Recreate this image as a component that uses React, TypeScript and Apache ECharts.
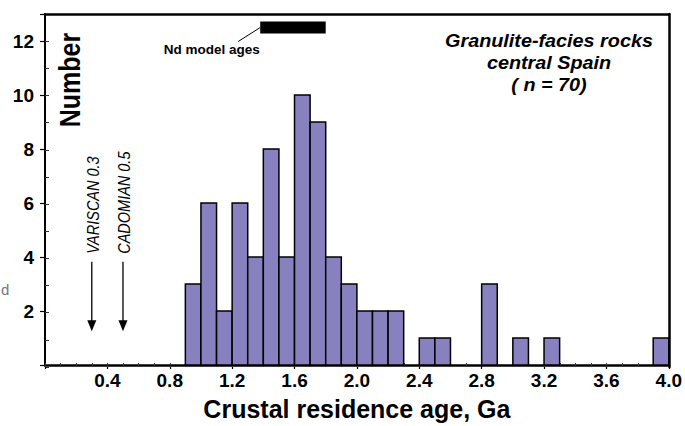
import React, { useEffect, useRef } from "react";
import * as echarts from "echarts";

// ---- data ----
const binStarts = [0.9, 1.0, 1.1, 1.2, 1.3, 1.4, 1.5, 1.6, 1.7, 1.8, 1.9, 2.0, 2.1, 2.2, 2.4, 2.5, 2.8, 3.0, 3.2, 3.9];
const counts = [3, 6, 2, 6, 4, 8, 4, 10, 9, 4, 3, 2, 2, 2, 1, 1, 3, 1, 1, 1];
const binWidth = 0.1;
const ndModelAgeRange = [1.38, 1.8];
const ndModelAgeBand = [12.28, 12.72];
const ndLabel = "Nd model ages";
const eventAges = [0.3, 0.5];
const eventLabels = ["VARISCAN 0.3", "CADOMIAN 0.5"];
const titleLines = ["Granulite-facies rocks", "central Spain", "( n = 70)"];
const xAxisTitle = "Crustal residence age, Ga";
const yAxisTitle = "Number";

const FONT = "'Liberation Sans', Arial, Helvetica, sans-serif";
const BAR_FILL = "#8782bf";

export default function App() {
  const ref = useRef<HTMLDivElement>(null);
  useEffect(() => {
    if (!ref.current) return;
    const chart = echarts.init(ref.current, undefined, { renderer: "svg" });
    const gridPos = { left: 45, right: 16, top: 14, bottom: 59 };
    const frameAxis = {
      axisLine: { show: true, onZero: false, lineStyle: { color: "#000", width: 2.5, opacity: 1 } },
      axisTick: { show: false },
      axisLabel: { show: false },
      splitLine: { show: false },
      z: 10,
    };

    const option: any = {
      animation: false,
      backgroundColor: "#ffffff",
      grid: [
        { ...gridPos, show: false },
        { ...gridPos, show: false },
        { ...gridPos, show: false },
      ],
      xAxis: [
        {
          type: "value",
          gridIndex: 0,
          min: 0,
          max: 4,
          interval: 0.4,
          position: "bottom",
          axisLine: { show: true, onZero: false, lineStyle: { color: "#000", width: 2.5 } },
          axisTick: { show: true, inside: false, length: 4, lineStyle: { color: "#000", width: 1.2 } },
          axisLabel: {
            formatter: (v: number) => (v === 0 ? "" : v.toFixed(1)),
            fontFamily: FONT,
            fontWeight: "bold",
            fontSize: 19,
            color: "#000",
            margin: 6,
          },
          splitLine: { show: false },
          name: xAxisTitle,
          nameLocation: "middle",
          nameGap: 31,
          nameTextStyle: { fontFamily: FONT, fontWeight: "bold", fontSize: 25, color: "#000" },
        },
        {
          type: "value",
          gridIndex: 1,
          min: 0,
          max: 4,
          interval: 0.1,
          position: "bottom",
          axisLine: { show: false },
          axisTick: { show: true, inside: true, length: 4, lineStyle: { color: "#333", width: 1 } },
          axisLabel: { show: false },
          splitLine: { show: false },
        },
        { type: "value", gridIndex: 2, min: 0, max: 4, position: "top", ...frameAxis },
      ],
      yAxis: [
        {
          type: "value",
          gridIndex: 0,
          min: 0,
          max: 13,
          interval: 2,
          axisLine: { show: true, onZero: false, lineStyle: { color: "#000", width: 2 } },
          axisTick: { show: true, inside: false, length: 5, lineStyle: { color: "#000", width: 1.2 } },
          axisLabel: {
            formatter: (v: number) => (v > 0 && v % 2 === 0 ? String(v) : ""),
            fontFamily: FONT,
            fontWeight: "bold",
            fontSize: 19,
            color: "#000",
            margin: 11,
          },
          splitLine: { show: false },
        },
        {
          type: "value",
          gridIndex: 1,
          min: 0,
          max: 13,
          interval: 1,
          axisLine: { show: false },
          axisTick: { show: true, inside: true, length: 4, lineStyle: { color: "#333", width: 1 } },
          axisLabel: { show: false },
          splitLine: { show: false },
        },
        { type: "value", gridIndex: 2, min: 0, max: 13, position: "right", ...frameAxis },
      ],
      graphic: [
        {
          type: "text",
          x: 70,
          y: 80,
          rotation: Math.PI / 2,
          scaleY: 1.15,
          style: {
            text: yAxisTitle,
            align: "center",
            verticalAlign: "middle",
            font: `bold 25px ${FONT}`,
            fill: "#000",
          },
        },
        {
          type: "text",
          x: 549,
          y: 63,
          scaleX: 1.1,
          style: {
            text: titleLines.join("\n"),
            align: "center",
            verticalAlign: "middle",
            lineHeight: 22,
            font: `italic bold 18px ${FONT}`,
            fill: "#000",
          },
        },
        {
          type: "text",
          x: 1,
          y: 289,
          style: {
            text: "d",
            align: "left",
            verticalAlign: "middle",
            font: `15px ${FONT}`,
            fill: "#777",
          },
        },
      ],
      series: [
        {
          type: "custom",
          name: "histogram",
          xAxisIndex: 0,
          yAxisIndex: 0,
          data: binStarts.map((s, i) => [s, s + binWidth, counts[i]]),
          encode: { x: [0, 1], y: 2 },
          z: 3,
          renderItem: (params: any, api: any) => {
            const p0 = api.coord([api.value(0), api.value(2)]);
            const p1 = api.coord([api.value(1), 0]);
            return {
              type: "rect",
              shape: { x: p0[0], y: p0[1], width: p1[0] - p0[0], height: p1[1] - p0[1] },
              style: { fill: BAR_FILL, stroke: "#000", lineWidth: 1.5 },
            };
          },
        },
        {
          type: "custom",
          name: "Nd model ages",
          xAxisIndex: 0,
          yAxisIndex: 0,
          data: [[ndModelAgeRange[0], ndModelAgeRange[1], ndModelAgeBand[0], ndModelAgeBand[1]]],
          encode: { x: [0, 1], y: [2, 3] },
          z: 4,
          renderItem: (params: any, api: any) => {
            const pA = api.coord([api.value(0), api.value(3)]);
            const pB = api.coord([api.value(1), api.value(2)]);
            const yMid = (pA[1] + pB[1]) / 2;
            return {
              type: "group",
              children: [
                {
                  type: "rect",
                  shape: { x: pA[0], y: pA[1], width: pB[0] - pA[0], height: pB[1] - pA[1] },
                  style: { fill: "#000" },
                },
                {
                  type: "line",
                  shape: { x1: pA[0] - 22, y1: yMid + 14, x2: pA[0], y2: yMid },
                  style: { stroke: "#000", lineWidth: 1 },
                },
                {
                  type: "text",
                  x: pA[0] - 48.5,
                  y: yMid + 22,
                  style: {
                    text: ndLabel,
                    align: "center",
                    verticalAlign: "middle",
                    font: `bold 13.5px ${FONT}`,
                    fill: "#000",
                  },
                },
              ],
            };
          },
        },
        {
          type: "custom",
          name: "events",
          xAxisIndex: 0,
          yAxisIndex: 0,
          data: eventAges.map((a) => [a, 0]),
          encode: { x: 0, y: 1 },
          z: 4,
          renderItem: (params: any, api: any) => {
            const x = api.value(0);
            const top = api.coord([x, 3.82]);
            const tip = api.coord([x, 1.25]);
            const textBase = api.coord([x, 4.12]);
            return {
              type: "group",
              children: [
                {
                  type: "line",
                  shape: { x1: top[0], y1: top[1], x2: tip[0], y2: tip[1] - 8 },
                  style: { stroke: "#000", lineWidth: 1.3 },
                },
                {
                  type: "polygon",
                  shape: {
                    points: [
                      [tip[0], tip[1]],
                      [tip[0] - 4.5, tip[1] - 11],
                      [tip[0] + 4.5, tip[1] - 11],
                    ],
                  },
                  style: { fill: "#000" },
                },
                {
                  type: "text",
                  x: textBase[0] + 1.5,
                  y: textBase[1],
                  rotation: Math.PI / 2,
                  scaleY: 1.12,
                  style: {
                    text: eventLabels[params.dataIndex],
                    align: "left",
                    verticalAlign: "middle",
                    font: `italic 14.5px ${FONT}`,
                    fill: "#000",
                  },
                },
              ],
            };
          },
        },
      ],
    };
    chart.setOption(option);
    return () => chart.dispose();
  }, []);

  return (
    <div
      ref={ref}
      style={{ position: "absolute", left: 0, top: 0, width: 685, height: 426, background: "#fff" }}
    />
  );
}
